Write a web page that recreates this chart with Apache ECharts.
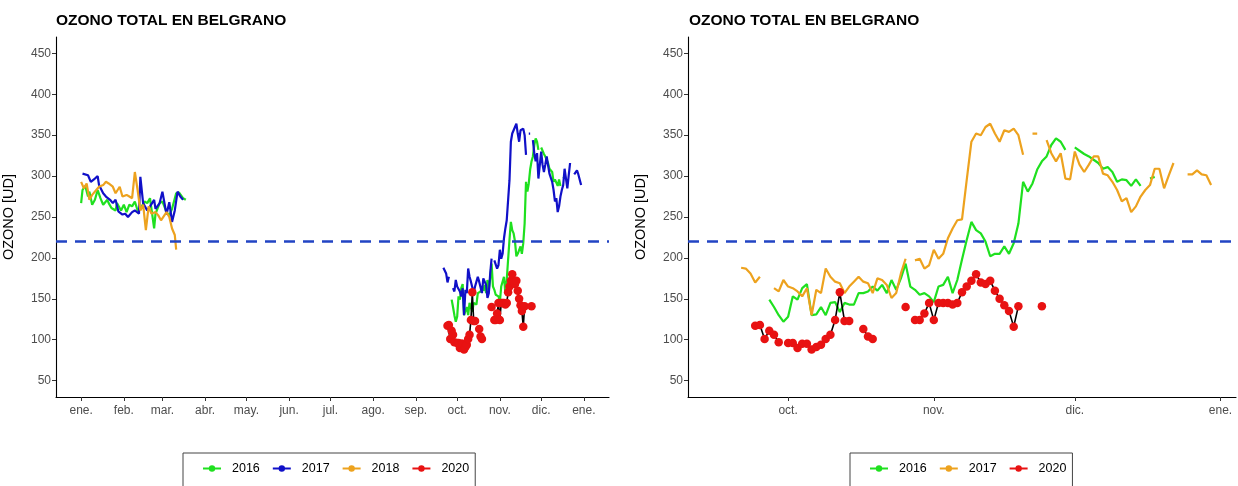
<!DOCTYPE html>
<html>
<head>
<meta charset="utf-8">
<script src="https://cdn.jsdelivr.net/npm/echarts@6/dist/echarts.min.js"></script>
<style>
  html, body { margin: 0; padding: 0; background: #fff; }
  #chart { width: 1238px; height: 486px; }
</style>
</head>
<body>
<div id="chart"></div>
<script>
// Total ozone over Belgrano, day of year (0 = 1 Jan) against Dobson units.
// Each list is [day, value]; a null value breaks the line.

const monthStarts = [0, 31, 59, 90, 120, 151, 181, 212, 243, 273, 304, 334, 365];
const monthLabels = ['ene.', 'feb.', 'mar.', 'abr.', 'may.', 'jun.', 'jul.', 'ago.', 'sep.', 'oct.', 'nov.', 'dic.', 'ene.'];
const yTicks = [50, 100, 150, 200, 250, 300, 350, 400, 450];
const threshold = 220;

const ozone2016 = [
  [0,267],[1,283],[3,288],[5,275],[6,281],[8,265],[10,271],[12,283],[14,273],[16,265],[19,271],[20,267],
  [22,261],[25,258],[26,267],[29,258],[31,265],[33,256],[35,265],[37,263],[39,269],[41,258],[43,260],
  [46,269],[48,267],[50,273],[53,236],[54,254],[57,267],[59,269],[62,256],[64,252],[66,260],[69,279],
  [71,280],[74,273],[76,271],[77,null],
  [269,149],[270,140],[271,130],[272,122],[273,128],[274,153],[275,149],[276,163],[277,168],[278,130],
  [279,131],[280,140],[281,130],[282,145],[283,146],[284,134],[285,145],[286,143],[287,143],[288,157],
  [289,157],[290,159],[291,165],[292,160],[293,167],[294,157],[295,173],[296,161],[297,175],[298,193],
  [299,165],[300,161],[301,155],[302,157],[303,153],[304,146],[305,165],[306,167],[307,177],[308,157],
  [309,173],[310,198],[311,222],[312,244],[313,234],[314,230],[315,220],[316,202],[317,205],[318,205],
  [319,214],[320,205],[321,218],[322,242],[323,293],[324,281],[325,291],[326,308],[327,318],[328,324],
  [329,338],[330,346],[331,342],[332,332],[333,null],
  [334,335],[335,331],[336,327],[337,324],[338,320],[339,316],[340,309],[341,311],[342,305],[343,293],
  [344,296],[345,295],[346,288],[347,296],[348,288],[349,null],
  [350,297],[351,299]
];

const ozone2017 = [
  [1,303],[2,304],[5,301],[7,293],[10,297],[12,300],[13,289],[16,279],[18,275],[21,271],[23,267],
  [25,271],[27,257],[30,253],[32,254],[34,250],[37,256],[39,258],[42,254],[43,299],[45,267],[48,258],
  [50,263],[53,271],[54,260],[57,267],[59,281],[62,253],[64,268],[66,244],[68,258],[70,281],[72,275],
  [74,271],[75,null],
  [263,188],[264,187],[265,181],[266,170],[267,177],[268,null],
  [270,163],[271,159],[272,173],[273,165],[274,163],[275,159],[276,153],[277,163],[278,130],[279,161],
  [280,157],[281,187],[282,177],[283,171],[284,169],[285,157],[286,165],[287,171],[288,177],[289,171],
  [290,169],[291,157],[292,175],[293,173],[294,167],[295,151],[296,157],[297,181],[298,199],[299,null],
  [300,197],[301,199],[302,187],[303,191],[304,210],[305,199],[306,205],[307,224],[308,236],[309,246],
  [310,247],[311,295],[312,342],[313,352],[314,350],[315,360],[316,364],[317,352],[318,342],[319,356],
  [320,354],[321,358],[322,350],[323,326],[324,null],
  [325,352],[326,352],[327,null],
  [328,344],[329,328],[330,318],[331,328],[332,297],[333,296],[334,330],[335,314],[336,305],[337,314],
  [338,324],[339,324],[340,303],[341,301],[342,293],[343,283],[344,269],[345,273],[346,256],[347,263],
  [348,275],[349,283],[350,289],[351,309],[352,309],[353,285],[354,301],[355,316],[356,null],
  [358,302],[359,302],[360,307],[361,302],[362,301],[363,289]
];

const ozone2018 = [
  [0,293],[2,285],[4,291],[6,271],[8,277],[11,283],[13,287],[16,289],[18,293],[20,291],[23,287],
  [25,279],[28,287],[30,275],[33,277],[35,275],[37,273],[39,305],[41,283],[43,258],[45,265],[47,234],
  [49,263],[51,254],[54,256],[56,252],[58,246],[62,256],[64,250],[66,236],[68,228],[69,210]
];

const ozone2020 = [
  [266,117],[267,118],[268,101],[269,111],[270,106],[271,97],[272,null],
  [273,96],[274,96],[275,90],[276,95],[277,95],[278,88],[279,91],[280,94],[281,101],[282,106],
  [283,124],[284,158],[285,123],[286,123],[287,null],
  [289,113],[290,104],[291,101],[292,null],
  [298,140],[299,null],
  [300,124],[301,124],[302,132],[303,145],[304,124],[305,145],[306,145],[307,145],[308,143],
  [309,145],[310,158],[311,165],[312,172],[313,180],[314,170],[315,168],[316,172],[317,160],
  [318,150],[319,142],[320,135],[321,116],[322,141],[323,null],
  [327,141]
];

const GREEN = '#1FE01F', BLUE = '#1010C8', ORANGE = '#EDA21E', RED = '#E81212', DASH = '#2244C4';
const FONT = '"Liberation Sans", Arial, sans-serif';

function lineSeries(name, data, color, axisIndex) {
  return {
    name, type: 'line', data, xAxisIndex: axisIndex, yAxisIndex: axisIndex,
    symbol: 'circle', showSymbol: false, symbolSize: 7,
    itemStyle: { color }, lineStyle: { color, width: 2.2 },
    connectNulls: false, animation: false, z: 3
  };
}
function pointSeries(name, data, axisIndex) {
  return {
    name, type: 'line', data, xAxisIndex: axisIndex, yAxisIndex: axisIndex,
    symbol: 'circle', showSymbol: true, symbolSize: 8.5,
    itemStyle: { color: RED }, lineStyle: { color: '#000', width: 1.6 },
    connectNulls: false, animation: false, z: 4
  };
}
function thresholdSeries(axisIndex) {
  return {
    type: 'line', data: [], xAxisIndex: axisIndex, yAxisIndex: axisIndex, silent: true,
    markLine: {
      symbol: 'none', silent: true, label: { show: false }, animation: false,
      lineStyle: { color: DASH, width: 2.6, type: [11, 8] },
      data: [{ yAxis: threshold }]
    }, z: 2
  };
}

function xAxis(gridIndex, min, max, ticks) {
  return {
    type: 'value', gridIndex, min, max,
    axisLine: { show: true, onZero: false, lineStyle: { color: '#000', width: 1.1 } },
    axisTick: { show: true, customValues: ticks, length: 4, lineStyle: { color: '#333' } },
    axisLabel: {
      customValues: ticks, color: '#4D4D4D', fontSize: 12, fontFamily: FONT, margin: 8,
      formatter: v => monthLabels[monthStarts.indexOf(v)]
    },
    splitLine: { show: false }
  };
}
function yAxis(gridIndex) {
  return {
    type: 'value', gridIndex, min: 30, max: 470,
    name: 'OZONO [UD]', nameLocation: 'middle', nameGap: 40,
    nameTextStyle: { color: '#000', fontSize: 14.5, fontFamily: FONT },
    axisLine: { show: true, onZero: false, lineStyle: { color: '#000', width: 1.1 } },
    axisTick: { show: true, customValues: yTicks, length: 4, lineStyle: { color: '#333' } },
    axisLabel: { customValues: yTicks, color: '#4D4D4D', fontSize: 12, fontFamily: FONT, margin: 5 },
    splitLine: { show: false }
  };
}
function legend(left, items) {
  return {
    left, top: 453, orient: 'horizontal',
    padding: [9, 6, 12, 19], itemGap: 12, itemWidth: 18, itemHeight: 8,
    borderColor: '#444', borderWidth: 1,
    textStyle: { color: '#000', fontSize: 12.5, fontFamily: FONT, padding: [0, 0, 0, 6] },
    data: items
  };
}

const chart = echarts.init(document.getElementById('chart'), null, { renderer: 'canvas' });
chart.setOption({
  animation: false,
  backgroundColor: '#fff',
  title: [
    { text: 'OZONO TOTAL EN BELGRANO', left: 56, top: 13, padding: 0,
      textStyle: { fontSize: 15.5, fontWeight: 'bold', color: '#000', fontFamily: FONT } },
    { text: 'OZONO TOTAL EN BELGRANO', left: 689, top: 13, padding: 0,
      textStyle: { fontSize: 15.5, fontWeight: 'bold', color: '#000', fontFamily: FONT } }
  ],
  grid: [
    { left: 55, top: 37, width: 554, height: 360 },
    { left: 688, top: 37, width: 548, height: 360 }
  ],
  xAxis: [
    xAxis(0, -18.25, 383.25, monthStarts),
    xAxis(1, 251.7, 368.3, monthStarts.slice(9))
  ],
  yAxis: [yAxis(0), yAxis(1)],
  legend: [
    legend(183, [
      { name: '2016', itemStyle: { color: GREEN }, lineStyle: { color: GREEN } },
      { name: '2017', itemStyle: { color: BLUE }, lineStyle: { color: BLUE } },
      { name: '2018', itemStyle: { color: ORANGE }, lineStyle: { color: ORANGE } },
      { name: '2020', itemStyle: { color: RED }, lineStyle: { color: RED } }
    ]),
    legend(850, [
      { name: '2016', itemStyle: { color: GREEN }, lineStyle: { color: GREEN } },
      { name: '2017', itemStyle: { color: ORANGE }, lineStyle: { color: ORANGE } },
      { name: '2020', itemStyle: { color: RED }, lineStyle: { color: RED } }
    ])
  ],
  series: [
    thresholdSeries(0),
    lineSeries('2016', ozone2016, GREEN, 0),
    lineSeries('2017', ozone2017, BLUE, 0),
    lineSeries('2018', ozone2018, ORANGE, 0),
    pointSeries('2020', ozone2020, 0),
    thresholdSeries(1),
    lineSeries('2016', ozone2016.filter(p => p[0] >= 250), GREEN, 1),
    lineSeries('2017', ozone2017.filter(p => p[0] >= 250), ORANGE, 1),
    pointSeries('2020', ozone2020, 1)
  ]
});
</script>
</body>
</html>
